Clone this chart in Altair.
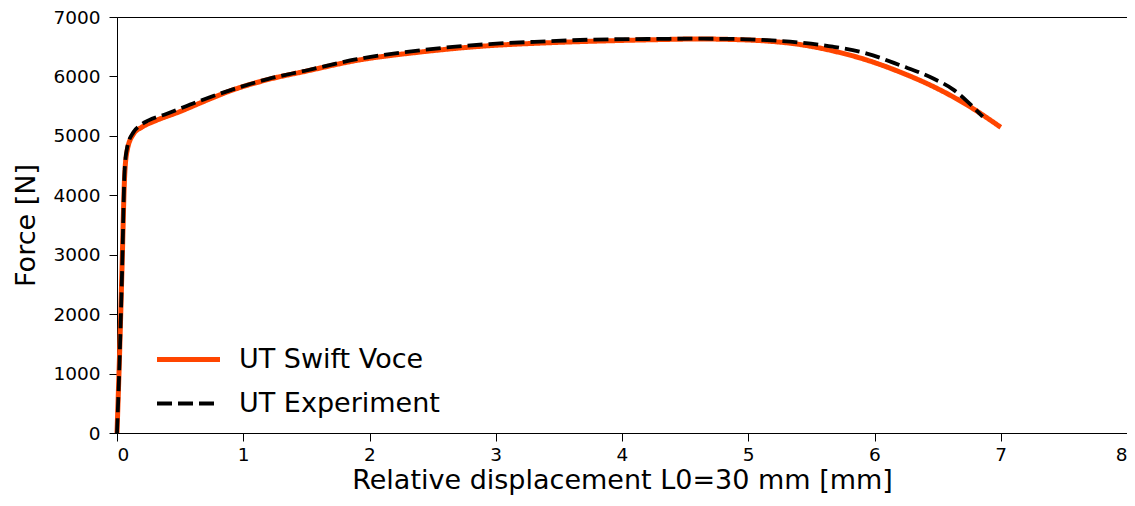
import altair as alt
import pandas as pd

# Swift Voce model curve (displacement mm, force N)
voce_x = [0, 0.02, 0.04, 0.06, 0.08, 0.13, 0.2, 0.3, 0.5, 0.7, 0.9, 1.2, 1.5, 1.9, 2.4,
          2.9, 3.4, 3.9, 4.3, 4.6, 4.9, 5.15, 5.4, 5.67, 5.94, 6.2, 6.47, 6.73, 7.0]
voce_f = [0, 1300, 2800, 4300, 4750, 5030, 5150, 5250, 5410, 5590, 5760, 5950, 6090, 6270, 6410,
          6510, 6565, 6600, 6620, 6630, 6620, 6595, 6540, 6430, 6275, 6075, 5825, 5525, 5144]

# Experiment curve
exp_x = [0, 0.02, 0.04, 0.06, 0.08, 0.13, 0.18, 0.25, 0.39, 0.66, 0.9, 1.2, 1.5, 1.9, 2.4,
         2.95, 3.4, 3.74, 4.2, 4.6, 4.9, 5.15, 5.41, 5.67, 5.94, 6.2, 6.47, 6.63, 6.73, 6.857]
exp_f = [0, 1200, 2700, 4400, 4800, 5060, 5171, 5260, 5368, 5592, 5770, 5960, 6100, 6290, 6440,
         6545, 6590, 6618, 6630, 6635, 6630, 6610, 6570, 6500, 6385, 6190, 5960, 5770, 5590, 5323]

series = ["UT Swift Voce", "UT Experiment"]
colors = ["#FF4500", "#000000"]
x_ticks = [0, 1, 2, 3, 4, 5, 6, 7, 8]
y_ticks = [0, 1000, 2000, 3000, 4000, 5000, 6000, 7000]

df = pd.concat([
    pd.DataFrame({"x": voce_x, "f": voce_f, "series": series[0], "ord": range(len(voce_x))}),
    pd.DataFrame({"x": exp_x, "f": exp_f, "series": series[1], "ord": range(len(exp_x))}),
], ignore_index=True)

FONT = "DejaVu Sans"

legend = alt.Legend(
    title=None, orient="none", legendX=58, legendY=329,
    symbolType="M-3,0H3", symbolSize=441,
    labelFontSize=27, labelFont=FONT, labelColor="#000000", labelLimit=0,
    labelOffset=37, rowPadding=16, padding=0,
)

chart = alt.Chart(df).mark_line(interpolate="monotone").encode(
    x=alt.X("x:Q", scale=alt.Scale(domain=[0, 8], nice=False),
            axis=alt.Axis(values=x_ticks, format="d", labelPadding=4,
                          title="Relative displacement L0=30 mm [mm]")),
    y=alt.Y("f:Q", scale=alt.Scale(domain=[0, 7000], nice=False),
            axis=alt.Axis(values=y_ticks, format="d", labelPadding=9, title="Force [N]")),
    color=alt.Color("series:N", scale=alt.Scale(domain=series, range=colors), legend=legend),
    strokeDash=alt.StrokeDash("series:N", scale=alt.Scale(domain=series, range=[[1, 0], [15, 6]]),
                              legend=legend),
    strokeWidth=alt.StrokeWidth("series:N", scale=alt.Scale(domain=series, range=[5, 3.8]),
                                legend=legend),
    order="ord:Q",
).properties(
    width=1010, height=416,
    autosize=alt.AutoSizeParams(type="none"),
    padding={"left": 109, "top": 9, "right": 0, "bottom": 65},
).configure_view(
    stroke="#000000", strokeWidth=1
).configure_axis(
    grid=False, domainColor="#000000", tickColor="#000000", labelColor="#000000",
    titleColor="#000000", labelFont=FONT, titleFont=FONT, labelFontSize=18.5,
    titleFontSize=27, titleFontWeight="normal", tickSize=8,
)

chart = chart.configure_axisX(titlePadding=4).configure_axisY(titlePadding=12)

chart.save("out.html", embed_options={"renderer": "svg", "actions": False})
